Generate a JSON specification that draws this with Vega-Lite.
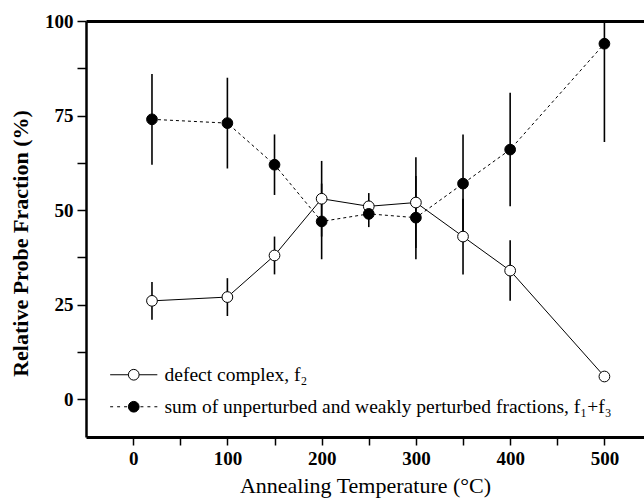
{
  "$schema": "https://vega.github.io/schema/vega-lite/v6.json",
  "width": 558,
  "height": 416,
  "autosize": "none",
  "padding": {"left": 86, "top": 21, "right": 0, "bottom": 63},
  "background": "white",
  "config": {
    "view": {"stroke": null},
    "font": "Liberation Serif",
    "axis": {"domainColor": "black", "tickColor": "black", "labelColor": "black", "titleColor": "black", "grid": false}
  },
  "data": {
    "values": [
      {"series": "defect complex, f₂", "T": 20, "v": 26, "lo": 21, "hi": 31},
      {"series": "defect complex, f₂", "T": 100, "v": 27, "lo": 22, "hi": 32},
      {"series": "defect complex, f₂", "T": 150, "v": 38, "lo": 33, "hi": 43},
      {"series": "defect complex, f₂", "T": 200, "v": 53, "lo": 43, "hi": 63},
      {"series": "defect complex, f₂", "T": 250, "v": 51, "lo": 47.5, "hi": 54.5},
      {"series": "defect complex, f₂", "T": 300, "v": 52, "lo": 40, "hi": 64},
      {"series": "defect complex, f₂", "T": 350, "v": 43, "lo": 33, "hi": 53},
      {"series": "defect complex, f₂", "T": 400, "v": 34, "lo": 26, "hi": 42},
      {"series": "defect complex, f₂", "T": 500, "v": 6, "lo": 6, "hi": 6},
      {"series": "sum of unperturbed and weakly perturbed fractions, f₁+f₃", "T": 20, "v": 74, "lo": 62, "hi": 86},
      {"series": "sum of unperturbed and weakly perturbed fractions, f₁+f₃", "T": 100, "v": 73, "lo": 61, "hi": 85},
      {"series": "sum of unperturbed and weakly perturbed fractions, f₁+f₃", "T": 150, "v": 62, "lo": 54, "hi": 70},
      {"series": "sum of unperturbed and weakly perturbed fractions, f₁+f₃", "T": 200, "v": 47, "lo": 37, "hi": 57},
      {"series": "sum of unperturbed and weakly perturbed fractions, f₁+f₃", "T": 250, "v": 49, "lo": 45.5, "hi": 52.5},
      {"series": "sum of unperturbed and weakly perturbed fractions, f₁+f₃", "T": 300, "v": 48, "lo": 37, "hi": 59},
      {"series": "sum of unperturbed and weakly perturbed fractions, f₁+f₃", "T": 350, "v": 57, "lo": 44, "hi": 70},
      {"series": "sum of unperturbed and weakly perturbed fractions, f₁+f₃", "T": 400, "v": 66, "lo": 51, "hi": 81},
      {"series": "sum of unperturbed and weakly perturbed fractions, f₁+f₃", "T": 500, "v": 94, "lo": 68, "hi": 120}
    ]
  },
  "layer": [
    {
      "mark": {"type": "rule", "clip": true, "strokeWidth": 1.6, "color": "black"},
      "encoding": {
        "x": {
          "field": "T", "type": "quantitative",
          "scale": {"domain": [-50, 542], "nice": false, "zero": false},
          "axis": {
            "orient": "bottom",
            "title": "Annealing Temperature (°C)",
            "values": [0, 50, 100, 150, 200, 250, 300, 350, 400, 450, 500],
            "labelExpr": "datum.value % 100 == 0 ? datum.label : ''",
            "domainWidth": 3, "tickWidth": 1.5, "tickSize": 8,
            "labelFont": "Liberation Serif", "labelFontSize": 19, "labelFontWeight": "bold", "labelPadding": 4,
            "titleFont": "Liberation Serif", "titleFontSize": 22, "titleFontWeight": "normal", "titlePadding": 7
          }
        },
        "y": {
          "field": "lo", "type": "quantitative",
          "scale": {"domain": [-10, 100], "nice": false, "zero": false},
          "axis": {
            "title": "Relative Probe Fraction (%)",
            "values": [0, 12.5, 25, 37.5, 50, 62.5, 75, 87.5, 100],
            "labelExpr": "datum.value % 25 == 0 ? datum.label : ''",
            "domainWidth": 2.5, "tickWidth": 1.5, "tickSize": 9,
            "labelFont": "Liberation Serif", "labelFontSize": 19, "labelFontWeight": "bold", "labelPadding": 4,
            "titleFont": "Liberation Serif", "titleFontSize": 22, "titleFontWeight": "bold", "titlePadding": 12,
            "titleY": 222
          }
        },
        "y2": {"field": "hi"}
      }
    },
    {
      "transform": [{"filter": "datum.series == 'defect complex, f₂'"}],
      "mark": {"type": "line", "color": "black", "strokeWidth": 1},
      "encoding": {
        "x": {
          "field": "T", "type": "quantitative",
          "axis": {"orient": "top", "labels": false, "ticks": false, "title": null, "domainWidth": 3}
        },
        "y": {"field": "v", "type": "quantitative", "title": "Relative Probe Fraction (%)"}
      }
    },
    {
      "transform": [{"filter": "datum.series != 'defect complex, f₂'"}],
      "mark": {"type": "line", "color": "black", "strokeWidth": 1, "strokeDash": [3, 3]},
      "encoding": {
        "x": {"field": "T", "type": "quantitative", "axis": null},
        "y": {"field": "v", "type": "quantitative", "title": "Relative Probe Fraction (%)"}
      }
    },
    {
      "mark": {"type": "point", "filled": true, "stroke": "black", "strokeWidth": 1, "size": 115, "opacity": 1, "shape": "circle"},
      "encoding": {
        "x": {"field": "T", "type": "quantitative", "axis": null},
        "y": {"field": "v", "type": "quantitative", "title": "Relative Probe Fraction (%)"},
        "fill": {
          "field": "series", "type": "nominal",
          "scale": {"domain": ["defect complex, f₂", "sum of unperturbed and weakly perturbed fractions, f₁+f₃"], "range": ["white", "black"]},
          "legend": {
            "orient": "none", "legendX": 38, "legendY": 344,
            "title": null, "padding": 0,
            "labelFont": "Liberation Serif", "labelFontSize": 19.5, "labelColor": "black",
            "labelOffset": 21, "rowPadding": 11, "labelLimit": 600,
            "symbolSize": 115, "symbolStrokeColor": "black", "symbolStrokeWidth": 1, "symbolOpacity": 1,
            "encode": {
              "symbols": {
                "update": {
                  "shape": {"signal": "datum.value == 'defect complex, f₂' ? 'M-4.4,0L-1,0M1,0L4.4,0M1,0A1,1,0,1,1,-1,0A1,1,0,1,1,1,0Z' : 'M-4.4,0L-3.85,0M-3.1,0L-2.55,0M-1.8,0L-1.25,0M1.25,0L1.8,0M2.55,0L3.1,0M3.85,0L4.4,0M1,0A1,1,0,1,1,-1,0A1,1,0,1,1,1,0Z'"}
                }
              }
            }
          }
        }
      }
    }
  ],
  "resolve": {"axis": {"x": "independent"}}
}
